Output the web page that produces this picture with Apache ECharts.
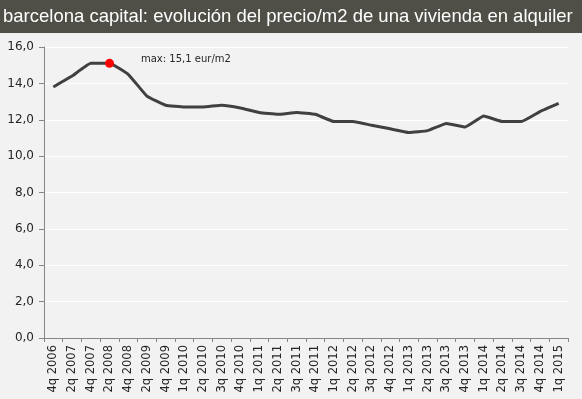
<!DOCTYPE html>
<html lang="es" style="height: 100%;margin: 0;">
<head>
    <meta charset="UTF-8">
    <title>chart</title>
</head>
<body style="height: 100%;margin: 0;background: #f2f2f2;">
<div id="chart" style="width: 582px;height: 399px;margin: 0;"></div>
<script src="https://cdn.jsdelivr.net/npm/echarts@6/dist/echarts.min.js"></script>
<script>
    var categories = ['4q 2006', '2q 2007', '4q 2007', '2q 2008', '4q 2008', '2q 2009', '4q 2009',
        '1q 2010', '2q 2010', '3q 2010', '4q 2010', '1q 2011', '2q 2011', '3q 2011', '4q 2011',
        '1q 2012', '2q 2012', '3q 2012', '4q 2012', '1q 2013', '2q 2013', '3q 2013', '4q 2013',
        '1q 2014', '2q 2014', '3q 2014', '4q 2014', '1q 2015'];
    var precio = [13.8, 14.4, 15.1, 15.1, 14.5, 13.3, 12.8,
        12.7, 12.7, 12.8, 12.65, 12.4, 12.3, 12.4, 12.3,
        11.9, 11.9, 11.7, 11.5, 11.3, 11.4, 11.8, 11.6,
        12.2, 11.9, 11.9, 12.45, 12.9];
    var maxIndex = 3;
    var maxLabel = 'max: 15,1 eur/m2';

    var myChart = echarts.init(document.getElementById('chart'), null, {renderer: 'canvas'});

    var seriesData = [];
    for (var i = 0; i < precio.length; i++) {
        if (i === maxIndex) {
            seriesData.push({
                value: precio[i],
                symbol: 'circle',
                symbolSize: 9,
                itemStyle: {color: '#ff0000'},
                label: {
                    show: true,
                    position: 'right',
                    offset: [22, -4],
                    formatter: maxLabel,
                    color: '#262626',
                    fontFamily: 'DejaVu Sans',
                    fontSize: 10
                }
            });
        } else {
            seriesData.push(precio[i]);
        }
    }

    var option = {
        backgroundColor: '#f2f2f2',
        animation: false,
        graphic: [{
            type: 'rect',
            left: 0,
            top: 0,
            shape: {width: 582, height: 33},
            style: {fill: '#4f4f48'}
        }, {
            type: 'text',
            left: 3,
            top: 7,
            style: {
                text: 'barcelona capital: evolución del precio/m2 de una vivienda en alquiler',
                fill: '#ffffff',
                font: '18.5px "Liberation Sans", Arial, sans-serif'
            }
        }],
        grid: {left: 44, right: 14, top: 47, bottom: 61},
        xAxis: {
            type: 'category',
            data: categories,
            boundaryGap: true,
            axisLine: {lineStyle: {color: '#868686'}},
            axisTick: {show: true, length: 4, lineStyle: {color: '#868686'}},
            axisLabel: {
                rotate: 90,
                interval: 0,
                margin: 7,
                color: '#262626',
                fontFamily: 'DejaVu Sans',
                fontSize: 11.5
            },
            splitLine: {show: false}
        },
        yAxis: {
            type: 'value',
            min: 0,
            max: 16,
            interval: 2,
            axisLine: {show: true, lineStyle: {color: '#868686'}},
            axisTick: {show: true, length: 5, lineStyle: {color: '#868686'}},
            axisLabel: {
                margin: 10,
                color: '#262626',
                fontFamily: 'DejaVu Sans',
                fontSize: 12,
                formatter: function (v) {
                    return v.toFixed(1).replace('.', ',');
                }
            },
            splitLine: {lineStyle: {color: '#ffffff', width: 1}}
        },
        series: [{
            type: 'line',
            data: seriesData,
            symbol: 'none',
            smooth: 0.1,
            lineStyle: {color: '#404040', width: 3},
            z: 3
        }]
    };

    myChart.setOption(option, true);
</script>
</body>
</html>
